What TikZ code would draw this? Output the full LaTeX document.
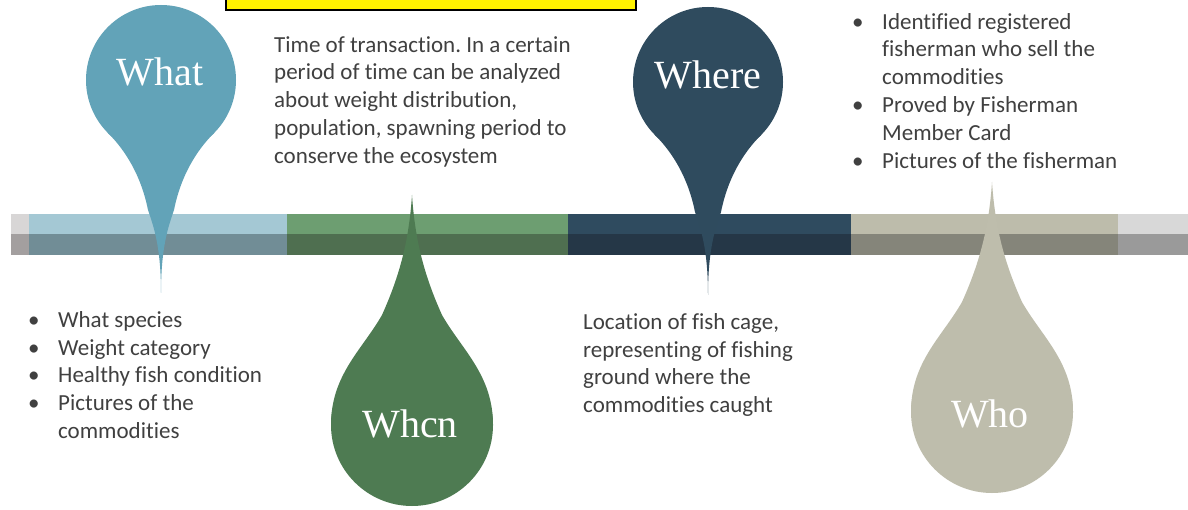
\documentclass[tikz,border=0pt]{standalone}
\usepackage{fontspec}
\setmainfont{Carlito}[Ligatures=NoCommon]
\newfontfamily\pinfont{Liberation Serif}
\definecolor{txtc}{HTML}{404040}
\definecolor{gat}{HTML}{D8D6D6}
\definecolor{gab}{HTML}{A39F9F}
\definecolor{blt}{HTML}{A4C8D4}
\definecolor{blb}{HTML}{718D96}
\definecolor{grt}{HTML}{6D9E71}
\definecolor{grb}{HTML}{4F6F50}
\definecolor{nvt}{HTML}{2F4B5F}
\definecolor{nvb}{HTML}{253747}
\definecolor{kht}{HTML}{BDBCAB}
\definecolor{khb}{HTML}{85857A}
\definecolor{gbt}{HTML}{D8D8D8}
\definecolor{gbb}{HTML}{9A9A9A}
\definecolor{whatc}{HTML}{62A3B8}
\definecolor{whenc}{HTML}{4E7B52}
\definecolor{wherec}{HTML}{2F4B5E}
\definecolor{whoc}{HTML}{BEBDAC}
\newcommand\tlbul{\makebox[30pt][l]{\textbullet}}
\newcommand\tlind{\hspace*{30pt}}
\frenchspacing
\begin{document}
\begin{tikzpicture}[x=1pt,y=-1pt,
  txt/.style={font=\fontsize{23}{27.8}\selectfont, text=txtc, anchor=north west, inner sep=0pt, align=left},
  lbl/.style={font=\pinfont\fontsize{40}{40}\selectfont, text=white, inner sep=0pt, anchor=base},
  pics/toppin/.style={code={
    \fill[#1] (0,0) circle[radius=75];
    \fill[#1] (-53,53) .. controls (-36,70) and (-20,95) .. (-13,130)
      .. controls (-8,145) and (0,165) .. (0,213)
      .. controls (0,165) and (8,145) .. (13,130)
      .. controls (20,95) and (36,70) .. (53,53) -- (0,0) -- cycle;
  }},
  pics/botpin/.style={code={
    \fill[#1] (0,0) circle[radius=81];
    \fill[#1] (-81,0) .. controls (-81,-50) and (-50,-75) .. (-30,-110)
      .. controls (-12,-150) and (-3,-185) .. (0,-230)
      .. controls (3,-185) and (12,-150) .. (30,-110)
      .. controls (50,-75) and (81,-50) .. (81,0) -- cycle;
  }}]
\useasboundingbox[fill=white] (0,0) rectangle (1188,510);
% timeline bar
\fill[gat] (11,214) rectangle (29,234.5);
\fill[gab] (11,234.5) rectangle (29,255);
\fill[blt] (29,214) rectangle (287,234.5);
\fill[blb] (29,234.5) rectangle (287,255);
\fill[grt] (287,214) rectangle (568,234.5);
\fill[grb] (287,234.5) rectangle (568,255);
\fill[nvt] (568,214) rectangle (851,234.5);
\fill[nvb] (568,234.5) rectangle (851,255);
\fill[kht] (851,214) rectangle (1118,234.5);
\fill[khb] (851,234.5) rectangle (1118,255);
\fill[gbt] (1118,214) rectangle (1188,234.5);
\fill[gbb] (1118,234.5) rectangle (1188,255);
% yellow box
\draw[line width=2pt, fill=yellow] (226,-10) rectangle (636,10);
% pins
\pic at (161,80) {toppin=whatc};
\pic at (412,425) {botpin=whenc};
\pic at (708,82) {toppin=wherec};
\pic at (992,412) {botpin=whoc};
\node[lbl] (what) at (160,86) {What};
\node[lbl] (when) at (410,437) {Whcn};
\node[lbl] (where) at (708,89) {Where};
\node[lbl] (who) at (990,427) {Who};
% texts
\node[txt] (whentext) at (274,32) {\rule{0pt}{20pt}Time of transaction. In a certain\\period of time can be analyzed\\about weight distribution,\\population, spawning period to\\conserve the ecosystem};
\node[txt] (whotext) at (852,9) {\rule{0pt}{20pt}\tlbul Identified registered\\\tlind fisherman who sell the\\\tlind commodities\\\tlbul Proved by Fisherman\\\tlind Member Card\\\tlbul Pictures of the fisherman};
\node[txt] (whattext) at (28,307) {\rule{0pt}{20pt}\tlbul What species\\\tlbul Weight category\\\tlbul Healthy fish condition\\\tlbul Pictures of the\\\tlind commodities};
\node[txt] (wheretext) at (583,309) {\rule{0pt}{20pt}Location of fish cage,\\representing of fishing\\ground where the\\commodities caught};
\end{tikzpicture}
\end{document}
